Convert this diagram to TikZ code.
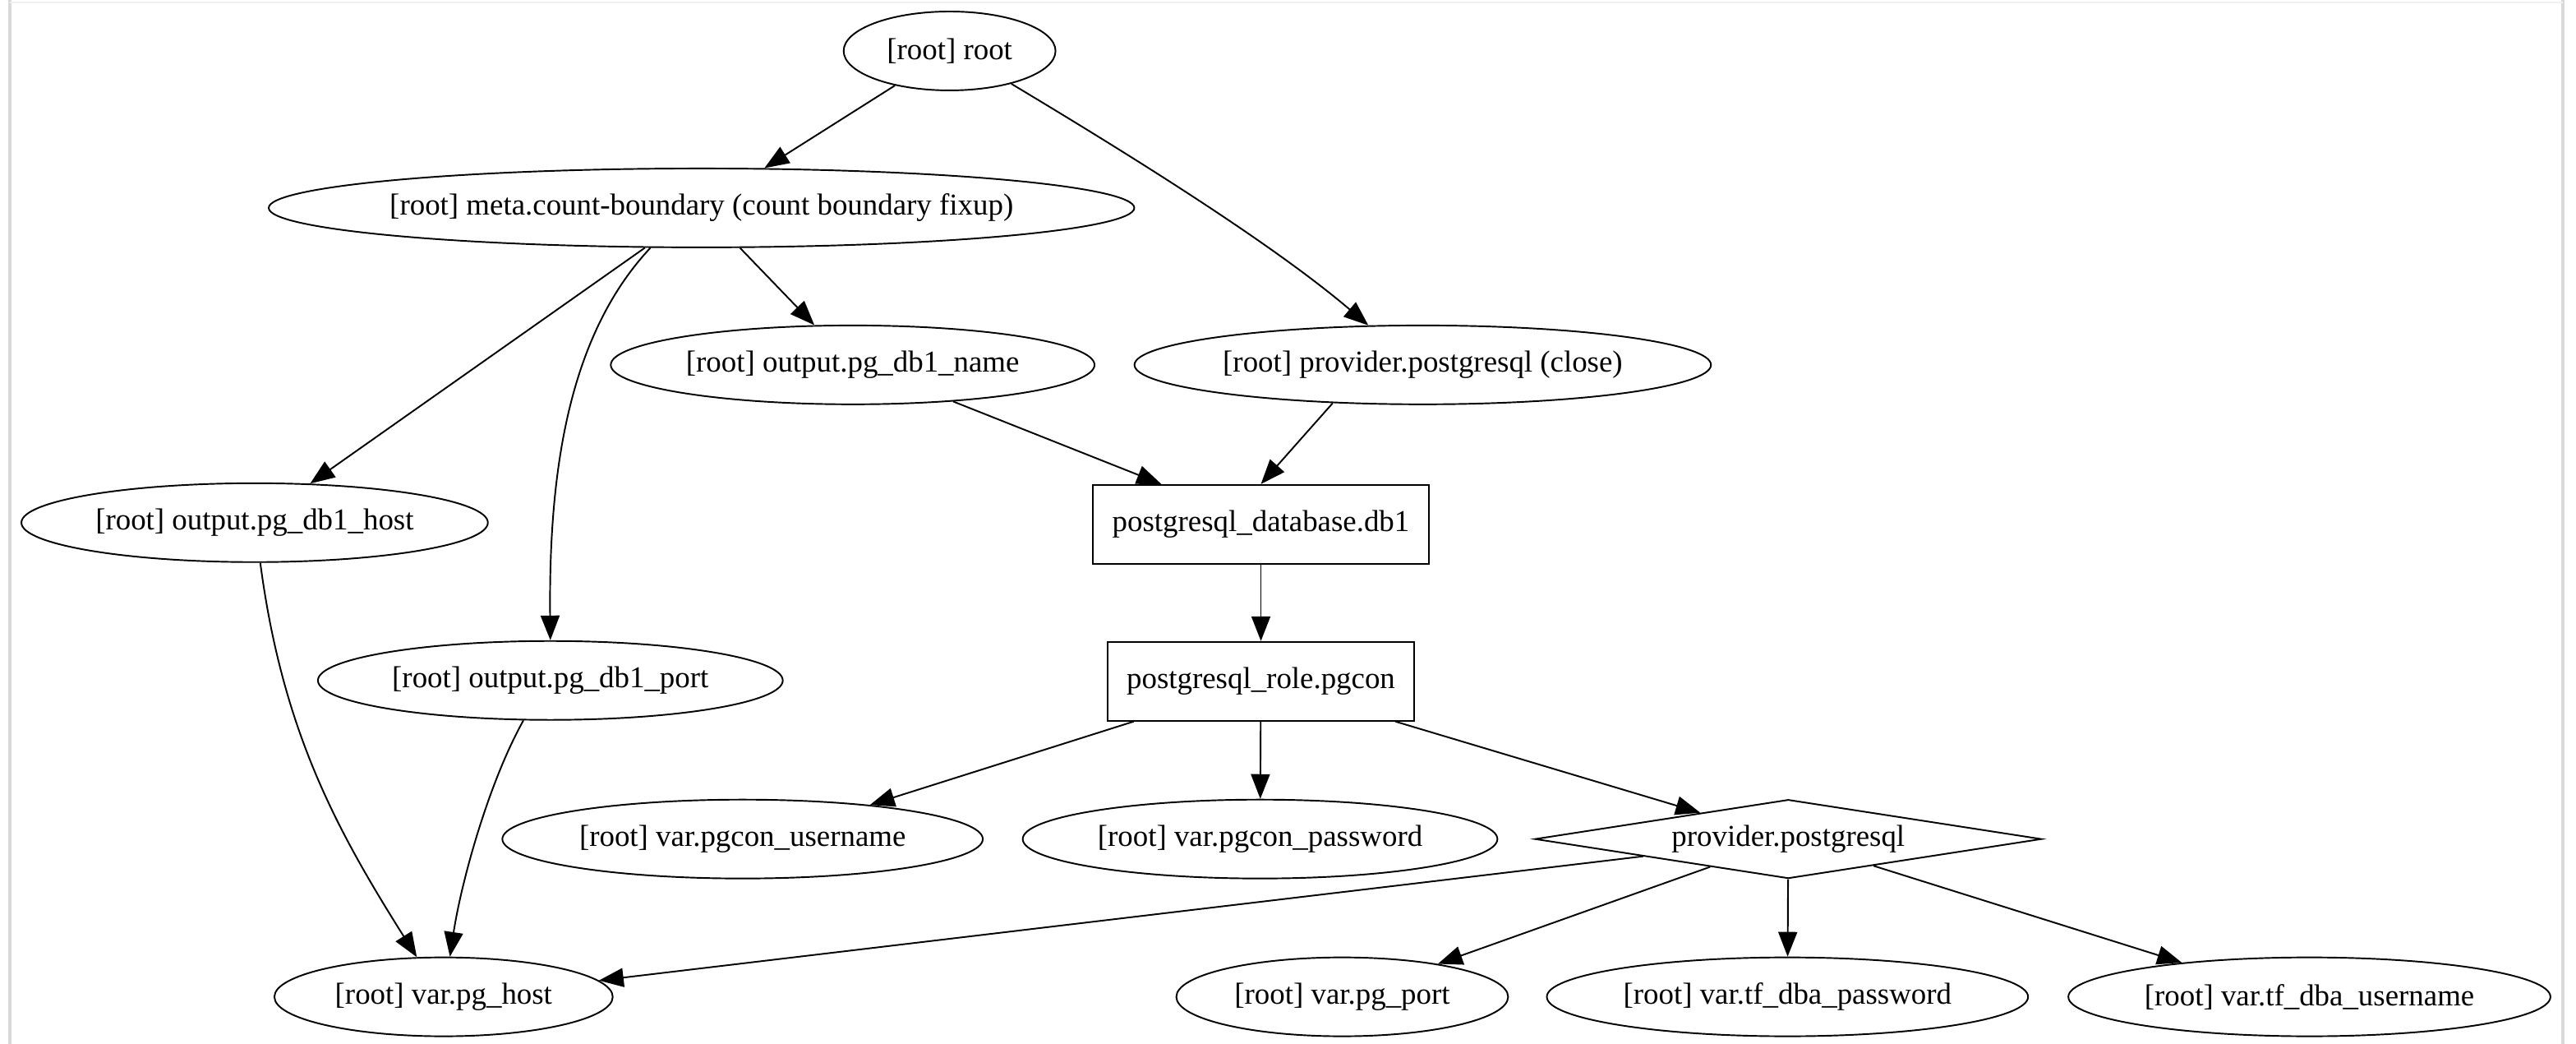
\documentclass[tikz,border=0pt]{standalone}
\usepackage{fontspec}
\setmainfont{Liberation Serif}
\usepackage{tikz}
\usetikzlibrary{shapes.geometric,arrows.meta,positioning}
\tikzstyle{res} = [ellipse, draw, line width=0.55pt, inner sep=0pt, minimum height=0.96cm, font=\fontsize{10.5}{12}\selectfont]
\tikzstyle{rsrc} = [rectangle, draw, line width=0.55pt, inner sep=0pt, minimum height=0.96cm, font=\fontsize{10.5}{12}\selectfont]
\tikzstyle{prov} = [diamond, draw, line width=0.55pt, inner sep=0pt, shape aspect=6.4, minimum width=6.17cm, minimum height=0.96cm, font=\fontsize{10.5}{12}\selectfont]
\tikzstyle{tedge} = [draw, line width=0.55pt, >={Triangle[length=3mm,width=2.3mm]}, ->]
\tikzstyle{shade} = [draw=gray!30, line width=1.2pt]

\begin{document}
\begin{tikzpicture}[x=0.02cm, y=-0.02cm]
\useasboundingbox (0,0) rectangle (1568,635);
\path[shade] (6,0) -- (6,635);
\path[shade] (1560,0) -- (1560,635);
\path[draw=gray!12, line width=0.6pt] (6,1.5) -- (1560,1.5);

% nodes =============================
\node[res, minimum width=2.58cm] (root) at (578,31) {[root] root};
\node[res, minimum width=10.54cm, inner xsep=-3pt] (meta) at (427,126.5) {[root] meta.count-boundary (count boundary fixup)};
\node[res, minimum width=5.89cm] (name) at (519,222) {[root] output.pg\_db1\_name};
\node[res, minimum width=7.02cm] (pclose) at (866,222) {[root] provider.postgresql (close)};
\node[res, minimum width=5.68cm] (host) at (155,318) {[root] output.pg\_db1\_host};
\node[rsrc, minimum width=4.1cm] (db) at (767.5,319) {postgresql\_database.db1};
\node[res, minimum width=5.66cm] (port) at (335,414) {[root] output.pg\_db1\_port};
\node[rsrc, minimum width=3.74cm] (role) at (767.5,414.5) {postgresql\_role.pgcon};
\node[res, minimum width=5.85cm] (pguser) at (452,510.5) {[root] var.pgcon\_username};
\node[res, minimum width=5.78cm] (pgpass) at (767,510.5) {[root] var.pgcon\_password};
\node[prov] (prov) at (1088.5,510.5) {provider.postgresql};
\node[res, minimum width=4.12cm] (pghost) at (270,606.5) {[root] var.pg\_host};
\node[res, minimum width=4.04cm] (pgport) at (817,606.5) {[root] var.pg\_port};
\node[res, minimum width=5.86cm] (tfpass) at (1088,606.5) {[root] var.tf\_dba\_password};
\node[res, minimum width=5.87cm] (tfuser) at (1405.7,606.5) {[root] var.tf\_dba\_username};

% edges
\path[tedge] (root) -- (meta);
\path[tedge] (root.-28) .. controls (684,92) and (773,147) .. (pclose.144);
\path[tedge] (meta) -- (name);
\path[tedge] (meta) -- (host);
\path[tedge] (meta.-142) .. controls (345,205) and (334,290) .. (port.north);
\path[tedge] (name.-20) -- (db.158);
\path[tedge] (pclose.-157) -- (db.north);
\path[tedge] (host.-82) .. controls (172,445) and (205,505) .. (pghost.124);
\path[tedge] (port.-124) .. controls (297,477) and (280.6,537.6) .. (pghost.81);
\path[tedge] (db) -- (role);
\path[tedge] (role) -- (pguser.15);
\path[tedge] (role) -- (pgpass);
\path[tedge] (role) -- (prov);
\path[tedge] (prov) -- (pghost.6);
\path[tedge] (prov) -- (pgport.19);
\path[tedge] (prov) -- (tfpass);
\path[tedge] (prov) -- (tfuser.165);

\end{tikzpicture}
\end{document}
